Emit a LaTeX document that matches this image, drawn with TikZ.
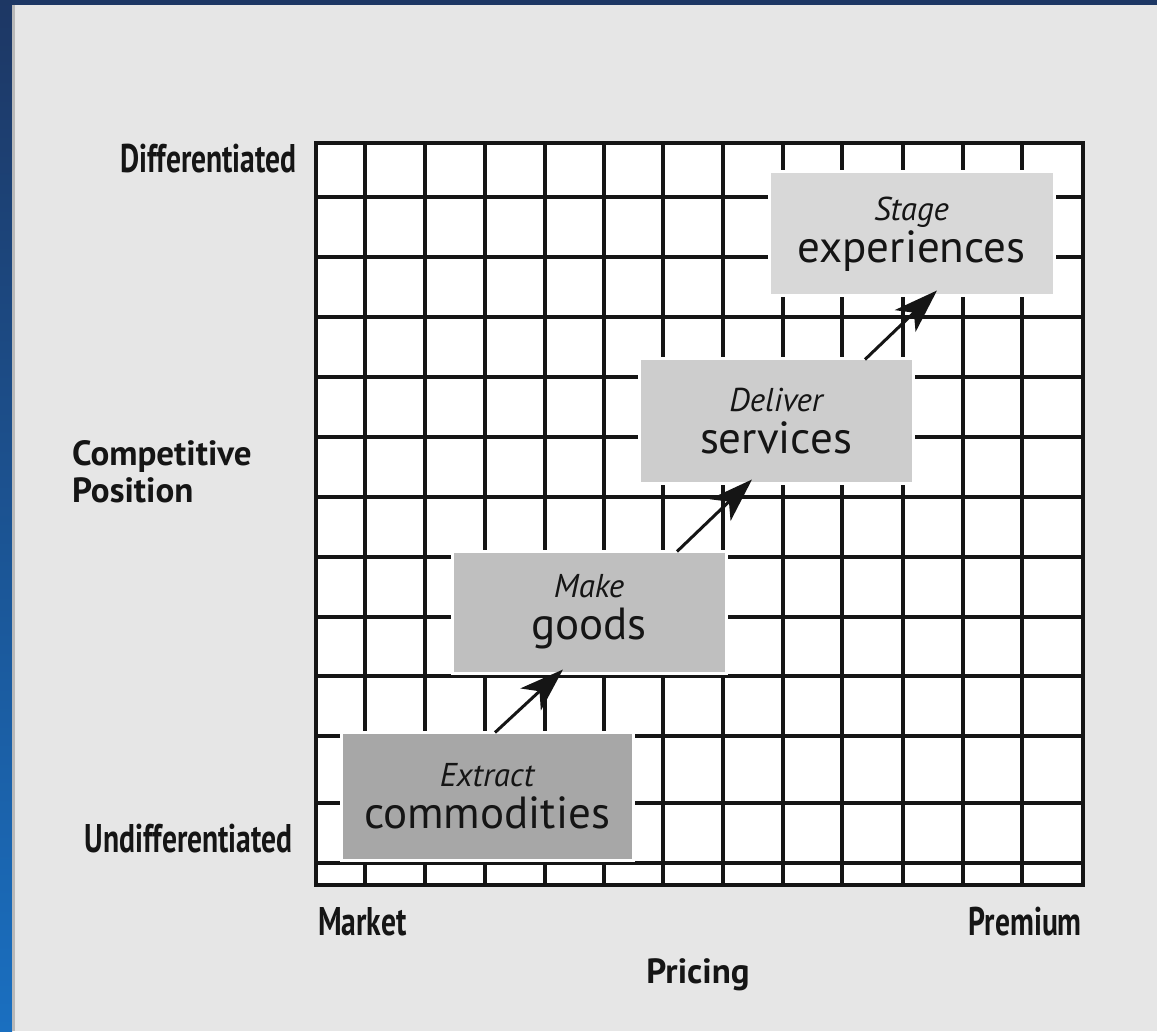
\documentclass[tikz,border=0pt]{standalone}
\usepackage{fontspec}
\setmainfont{PT Sans}
\newfontfamily\narrowfont[FakeStretch=0.74]{PT Sans}
\usetikzlibrary{arrows.meta}

\definecolor{panelgray}{HTML}{E6E6E6}
\definecolor{edgegray}{HTML}{B8B8B8}
\definecolor{deepblue}{HTML}{1D3764}
\definecolor{brightblue}{HTML}{1A6FC0}
\definecolor{inkblack}{HTML}{151515}
\definecolor{extractgray}{HTML}{A7A7A7}
\definecolor{makegray}{HTML}{BFBFBF}
\definecolor{delivergray}{HTML}{CDCDCD}
\definecolor{stagegray}{HTML}{D8D8D8}

\begin{document}
\begin{tikzpicture}[x=1pt,y=-1pt,
  gridline/.style={line width=3.5pt, draw=inkblack},
  stepbox/.style={draw=white, line width=3pt, inner sep=0pt, align=center,
    text=inkblack, font=\fontsize{45}{42}\selectfont},
  sidelabel/.style={inner sep=0pt, text=inkblack,
    font=\narrowfont\bfseries\fontsize{40}{40}\selectfont},
  axistitle/.style={inner sep=0pt, text=inkblack,
    font=\bfseries\fontsize{35}{37}\selectfont},
  flow/.style={line width=3pt, draw=inkblack,
    -{Stealth[length=44pt,width=30pt,inset=12pt]}}]

% backdrop
\fill[panelgray] (0,0) rectangle (1157,1031);
\shade[top color=deepblue, bottom color=brightblue] (0,0) rectangle (12,1031);
\fill[deepblue] (0,0) rectangle (1157,5);
\draw[edgegray, line width=2.5pt] (13.5,5) -- (13.5,1031);

% the grid
\fill[white] (316,143) rectangle (1083,885);
\foreach \x in {365,425,485,545,604,663,723,783,842,903,963,1022}
  \draw[gridline] (\x,143) -- (\x,885);
\foreach \y in {197,257,317,377,437,497,557,617,676,736,803,863}
  \draw[gridline] (316,\y) -- (1083,\y);
\draw[gridline] (316,143) rectangle (1083,885);

% the four steps
\node[stepbox, fill=extractgray, minimum width=292pt, minimum height=128pt]
  (extract) at (487,796) {{\fontsize{33}{31}\itshape Extract}\\commodities};
\node[stepbox, fill=makegray, minimum width=274pt, minimum height=122pt]
  (make) at (589,612) {{\fontsize{33}{31}\itshape Make}\\goods};
\node[stepbox, fill=delivergray, minimum width=274pt, minimum height=124pt]
  (deliver) at (776,421) {{\fontsize{33}{31}\itshape Deliver}\\services};
\node[stepbox, fill=stagegray, minimum width=285pt, minimum height=124pt]
  (stage) at (911.5,234) {{\fontsize{33}{31}\itshape Stage}\\experiences};

\draw[flow] ([xshift=8pt,yshift=-2pt]extract.north) -- ([xshift=-26pt,yshift=5pt]make.south);
\draw[flow] ([xshift=88pt,yshift=-2pt]make.north) -- ([xshift=-24pt,yshift=5pt]deliver.south);
\draw[flow] ([xshift=89pt,yshift=-2pt]deliver.north) -- ([xshift=25.5pt,yshift=7pt]stage.south);

% axis labels
\node[sidelabel, anchor=base east] (high) at (297,173) {Differentiated};
\node[sidelabel, anchor=base east] (low) at (293,852) {Undifferentiated};
\node[sidelabel, anchor=base west] (market) at (318,935) {Market};
\node[sidelabel, anchor=base east] (premium) at (1082,935) {Premium};
\node[axistitle, anchor=base west, align=left] (position) at (72,502) {Competitive\\Position};
\node[axistitle, anchor=base] (pricing) at (698,983) {Pricing};
\end{tikzpicture}
\end{document}
